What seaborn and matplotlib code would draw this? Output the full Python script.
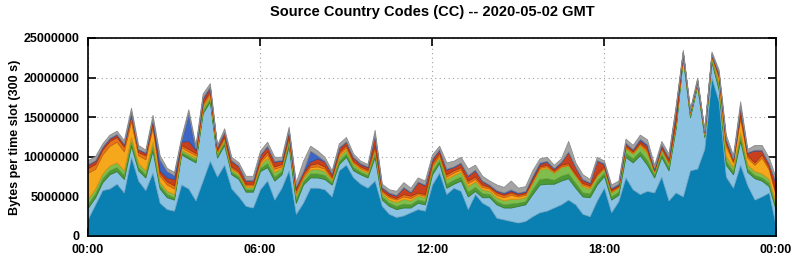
import numpy as np
import matplotlib
matplotlib.use("Agg")
import matplotlib.pyplot as plt
import seaborn as sns

# 15-minute samples over the day (hours)
hours = np.linspace(0, 24, 97)
tick_hours = [0, 6, 12, 18, 24]
tick_labels = ["00:00", "06:00", "12:00", "18:00", "00:00"]
y_ticks = [0, 5000000, 10000000, 15000000, 20000000, 25000000]

# layer thicknesses in millions of bytes per slot (bottom -> top)
dark_blue = [2.2, 4.0, 5.8, 6.0, 6.6, 5.5, 10.0, 7.0, 5.8, 8.0, 4.2, 3.4, 3.2, 6.5, 6.0, 4.5, 7.0, 9.5, 7.5, 9.0,
             6.0, 5.0, 3.8, 3.6, 5.9, 7.0, 4.6, 6.1, 8.3, 2.8, 4.2, 6.1, 6.1, 5.9, 5.0, 8.3, 9.0, 7.4, 6.6, 6.1,
             7.0, 3.8, 2.8, 2.4, 2.6, 3.0, 3.4, 3.2, 6.5, 8.0, 5.3, 6.1, 5.7, 3.4, 5.3, 4.2, 3.7, 2.3, 2.1, 1.9,
             1.7, 1.9, 2.5, 3.0, 3.2, 3.6, 4.0, 4.6, 4.0, 2.8, 2.5, 4.5, 6.1, 3.0, 4.4, 7.4, 5.9, 5.3, 5.7, 5.5,
             7.5, 4.5, 5.5, 5.0, 8.3, 8.5, 11.0, 20.0, 17.0, 7.5, 6.1, 9.0, 6.4, 4.6, 5.0, 5.5, 1.1]
light_blue = [1.4, 0.9, 1.0, 1.8, 1.6, 1.7, 1.4, 1.3, 1.6, 2.8, 1.8, 1.5, 1.4, 3.8, 3.8, 4.8, 8.5, 7.5, 2.4, 2.5,
              1.8, 2.2, 1.8, 2.0, 2.3, 1.7, 2.4, 1.7, 3.1, 1.4, 2.3, 1.3, 1.3, 1.3, 1.5, 0.8, 1.0, 0.9, 1.2, 1.3,
              3.0, 0.8, 1.0, 1.0, 1.0, 0.6, 0.8, 0.8, 1.3, 1.2, 0.8, 0.5, 1.3, 1.6, 0.4, 0.7, 1.2, 1.7, 1.5, 1.7,
              2.1, 2.1, 2.8, 3.5, 3.4, 3.0, 3.0, 2.7, 2.1, 2.2, 2.4, 2.0, 1.5, 1.6, 0.8, 2.6, 3.4, 4.9, 3.3, 1.9,
              2.5, 3.8, 8.1, 17.5, 6.7, 10.5, 1.5, 2.0, 1.5, 1.5, 1.7, 3.0, 1.7, 2.7, 2.0, 0.8, 2.1]
green_dark = [.5, .5, .5, .5, .5, .5, .5, .4, .4, .5, .4, .4, .3, .3, .3, .3, .3, .3, .3, .3,
              .3, .3, .3, .3, .4, .5, .5, .4, .4, .5, .4, .5, .5, .5, .3, .4, .4, .4, .3, .3,
              .4, .4, .4, .4, .5, .4, .4, .4, .4, .4, .5, .5, .5, .6, .5, .5, .4, .4, .4, .5,
              .4, .4, .6, .7, .7, .5, .6, .6, .6, .5, .5, .5, .4, .4, .4, .5, .5, .5, .6, .3,
              .4, .4, .3, .2, .2, .2, .2, .2, .4, .5, .4, .5, .4, .4, .4, .4, .4]
green_light = [.6, .6, .6, .6, .6, .6, .6, .5, .5, .6, .4, .4, .4, .3, .3, .3, .4, .4, .3, .3,
               .3, .3, .3, .3, .4, .7, .6, .4, .4, .5, .4, .5, .6, .5, .3, .5, .5, .4, .3, .3,
               .5, .4, .4, .5, .6, .5, .5, .5, .5, .4, .6, .6, .6, .7, .7, .5, .4, .5, .5, .6,
               .5, .5, .8, 1.2, 1.3, .9, 1.1, 1.0, .9, .8, .6, .6, .5, .5, .5, .6, .6, .7, .9, .4,
               .5, .5, .4, .2, .3, .2, .2, .3, .5, .6, .5, .6, .5, .5, .5, .5, .4]
yellow = [3.3, 2.5, 2.4, 2.5, 2.6, 2.4, 2.0, 1.0, 1.4, 1.8, .8, .8, .7, .3, .3, .3, .3, .3, .2, .3,
          .2, .2, .2, .2, .3, .4, .4, .2, .2, .3, .2, .3, .3, .3, .2, .3, .3, .2, .2, .2,
          .3, .2, .3, .3, .3, .3, .2, .2, .2, .2, .3, .3, .3, .4, .3, .3, .3, .3, .4, .5,
          .3, .3, .2, .2, .2, .1, .1, .1, .1, .2, .2, .1, .1, .1, .1, .1, .1, .2, .2, .1,
          .1, .1, .1, .1, .1, .1, .1, .2, .6, 1.3, .6, 1.8, .9, .8, 2.0, 1.2, 1.0]
orange = [.6, .6, .6, .6, .6, .6, .6, .4, .5, .5, .4, .4, .4, .3, .3, .3, .3, .3, .2, .2,
          .2, .2, .2, .2, .3, .4, .3, .3, .3, .3, .3, .3, .4, .3, .2, .3, .3, .2, .2, .2,
          .3, .2, .2, .2, .3, .3, .2, .2, .3, .3, .3, .3, .3, .3, .3, .3, .2, .3, .3, .3,
          .2, .2, .2, .2, .2, .2, .2, .2, .2, .2, .2, .2, .2, .2, .1, .2, .2, .2, .3, .1,
          .2, .2, .2, .1, .1, .1, .1, .1, .3, .4, .2, .4, .3, .3, .4, .3, .3]
red = [.4, .4, .3, .3, .3, .3, .5, .3, .3, .5, .3, .5, .8, .4, 1.0, .4, .5, .5, .3, .5,
       .7, .6, .4, .4, .6, .6, .6, .4, .6, .4, .3, .4, .6, .6, .4, .5, .4, .4, .3, .3,
       1.3, .3, .3, .3, .8, .4, 1.3, 1.1, .5, .4, .6, .4, .5, .6, .8, .4, .2, .2, .2, .2,
       .2, .2, .3, .3, .4, .2, .3, 1.4, .8, .4, .3, 1.6, .3, .2, .2, .3, .2, .3, .4, .2,
       .3, .4, 1.4, .1, .1, .1, .1, .1, .2, .4, .2, 1.0, .3, 1.5, .5, .4, 1.3]
blue = [.1, .1, .1, .1, .1, .1, .1, .1, .1, .1, 1.4, .8, .5, .2, 3.5, .2, .2, .1, .1, .1,
        .1, .1, .1, .1, .1, .1, .1, .1, .1, .1, .1, 1.4, .4, .1, .1, .1, .1, .1, .1, .1,
        .1, .1, .1, .1, .1, .1, .1, .1, .1, .1, .1, .1, .1, .1, .1, .1, .1, .1, .1, .2,
        .1, .1, .2, .2, .1, .1, .1, .1, .1, .1, .1, .1, .1, .1, .1, .1, .1, .2, .2, .1,
        .1, .1, .1, .0, .0, .0, .0, .1, .1, .1, .1, .1, .1, .1, .1, .1, .1]
grey = [.5, .5, .4, .4, .4, .4, .5, .5, .3, .5, .5, .4, .4, .4, .5, .4, .5, .4, .2, .4,
        .4, .4, .5, .5, .5, .5, .5, .4, .4, .5, 1.3, .6, .6, .5, .3, .5, .5, .4, .3, .3,
        .5, .4, .4, .5, .6, .5, .5, .5, .5, .4, .8, .7, .7, .8, .6, .6, .5, .7, .7, 1.1,
        .6, .6, .7, .5, .5, .4, .4, 1.3, .5, .6, .4, .4, .3, .4, .4, .5, .5, .5, .6, .4,
        .4, .4, .4, .3, .3, .3, .3, .3, .4, .5, .4, .6, .4, .6, .6, .7, .6]

layers = [dark_blue, light_blue, green_dark, green_light, yellow, orange, red, blue, grey]
fills = ["#0a80b2", "#8cc3e3", "#4c9a35", "#7fbd4c", "#f6a81c", "#e8741a", "#c9401e", "#3d66c4", "#a4a4a4"]
edges = ["#06688f", "#6fa8c9", "#3a7d28", "#66a23a", "#d89010", "#c85f10", "#a83212", "#2f50a0", "#8a8a8a"]

sns.set_theme(style="white")
plt.rcParams['font.family'] = ['Liberation Sans', 'DejaVu Sans']
plt.rcParams['text.color'] = 'black'
plt.rcParams['axes.labelcolor'] = 'black'

fig = plt.figure(figsize=(7.95, 2.6), dpi=100)
ax = fig.add_axes([88 / 795, 1 - 236 / 260, 688 / 795, 198 / 260])

bottom = np.zeros(len(hours))
for vals, fc, ec in zip(layers, fills, edges):
    v = np.asarray(vals) * 1e6
    top = bottom + v
    ax.fill_between(hours, bottom, top, facecolor=fc, edgecolor=ec, linewidth=0.6, zorder=2)
    bottom = top

ax.set_xlim(0, 24)
ax.set_ylim(0, 25000000)
ax.set_xticks(tick_hours)
ax.set_xticklabels(tick_labels)
ax.set_yticks(y_ticks)
ax.set_yticklabels([str(t) for t in y_ticks])

ax.grid(True, linestyle=(0, (1, 3)), color="#a0a0a0", linewidth=0.8, zorder=1)
ax.set_axisbelow(True)
ax.tick_params(direction="in", length=6, width=1.2, top=True, right=True, bottom=True, left=True,
               labelsize=9, pad=6, colors="black")
for lab in ax.get_xticklabels() + ax.get_yticklabels():
    lab.set_fontweight("bold")
for s in ax.spines.values():
    s.set_linewidth(1.2)
    s.set_color("black")
    s.set_zorder(5)

ax.set_ylabel("Bytes per time slot (300 s)", fontsize=9, fontweight="bold", labelpad=2, color="black")
fig.text(432 / 795, 1 - 12 / 260, "Source Country Codes (CC) -- 2020-05-02 GMT", ha="center", va="center",
         fontsize=10.5, fontweight="bold", color="black")

fig.savefig("out.png", dpi=100)
